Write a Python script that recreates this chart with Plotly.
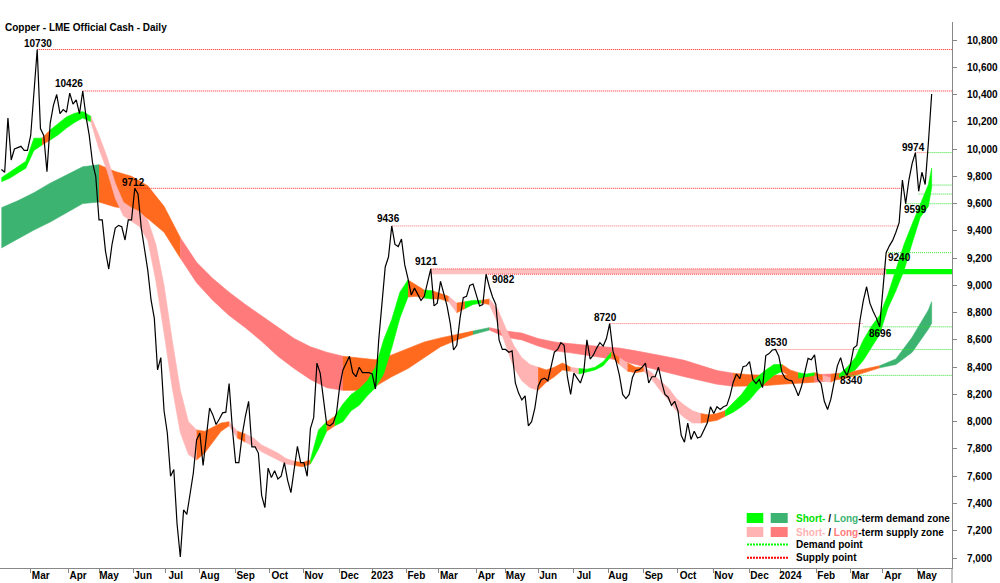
import pandas as pd
import plotly.graph_objects as go

# ---------------- calendar (LME trading days) ----------------
lme_holidays = ["2022-04-15", "2022-04-18", "2022-05-02", "2022-06-02", "2022-06-03",
                "2022-08-29", "2022-09-19", "2022-12-26", "2022-12-27",
                "2023-01-02", "2023-04-07", "2023-04-10", "2023-05-01", "2023-05-08",
                "2023-05-29", "2023-08-28", "2023-12-25", "2023-12-26",
                "2024-01-01", "2024-03-29", "2024-04-01", "2024-05-06", "2024-05-27"]
trading_days = pd.bdate_range("2022-02-03", "2024-05-15", freq="C", holidays=lme_holidays)
calendar_days = pd.bdate_range("2022-02-03", "2024-05-31", freq="C", holidays=lme_holidays)

# ---------------- price (every second trading day) ----------------
price_values = [
    9850, 9830, 10228, 9920, 10000, 10010, 10020, 9990, 9990, 10100,
    10450, 10730, 10150, 10100, 9834, 10191, 10323, 10400, 10260, 10290,
    10270, 10410, 10330, 10360, 10260, 10426, 10240, 10100, 9900, 9800,
    9480, 9480, 9250, 9120, 9300, 9420, 9440, 9430, 9333, 9480,
    9480, 9712, 9670, 9420, 9265, 9110, 8893, 8760, 8380, 8470,
    8080, 7917, 7600, 7650, 7250, 7008, 7353, 7320, 7470, 7624,
    7866, 7917, 7680, 7870, 8100, 8050, 7980, 8020, 8065, 8070,
    8280, 7950, 7700, 7700, 7900, 8040, 8150, 7815, 7815, 7770,
    7460, 7370, 7660, 7590, 7640, 7580, 7600, 7700, 7570, 7480,
    7650, 7820, 7700, 7700, 7600, 7950, 8030, 8430, 8356, 8160,
    7980, 7970, 7990, 8060, 8260, 8380, 8430, 8480, 8360, 8330,
    8400, 8360, 8360, 8360, 8350, 8240, 8600, 8900, 9135, 9208,
    9436, 9300, 9285, 9340, 9150, 9050, 8930, 8980, 8930, 8890,
    8920, 9030, 9121, 8850, 8870, 9030, 8930, 8850, 8720, 8526,
    8560, 8760, 8910, 8920, 9000, 9010, 8930, 8850, 8860, 9082,
    8990, 8915, 8860, 8600, 8530, 8530, 8510, 8520, 8284, 8210,
    8160, 8190, 7970, 8000, 8100, 8260, 8310, 8320, 8300, 8400,
    8510, 8530, 8580, 8560, 8330, 8200, 8356, 8320, 8284, 8356,
    8600, 8460, 8490, 8540, 8580, 8555, 8610, 8720, 8520, 8440,
    8340, 8200, 8170, 8200, 8325, 8375, 8380, 8400, 8430, 8284,
    8330, 8330, 8400, 8290, 8200, 8180, 8120, 8150, 8080, 7900,
    7850, 7990, 7870, 7930, 7880, 7890, 7940, 7990, 8110, 8060,
    8110, 8090, 8110, 8120, 8190, 8290, 8350, 8315, 8404, 8410,
    8440, 8310, 8280, 8310, 8250, 8485, 8500, 8526, 8530, 8480,
    8360, 8318, 8306, 8300, 8250, 8190, 8260, 8360, 8465, 8455,
    8490, 8310, 8280, 8150, 8090, 8165, 8290, 8410, 8470, 8380,
    8340, 8415, 8540, 8560, 8750, 8890, 8990, 8870, 8810, 8760,
    8696, 8944, 9240, 9290, 9330, 9390, 9460, 9773, 9599, 9773,
    9895, 9974, 9690, 9830, 9740, 10050, 10404]
price_dates = trading_days[::2][:len(price_values)]

# ---------------- short-term zone (weekly knots) ----------------
short_upper = [
    9790, 9830, 9870, 9910, 10080, 10080, 10140, 10190, 10236, 10262,
    10275, 10240, 10100, 9940, 9750, 9610, 9570, 9540, 9480, 9300,
    9000, 8600, 8230, 8000, 7940, 7930, 7960, 7990, 8000, 7930,
    7910, 7880, 7830, 7800, 7770, 7730, 7710, 7700, 7720, 7940,
    8000, 8040, 8130, 8200, 8240, 8300, 8400, 8600, 8750, 8950,
    9040, 9000, 8966, 8960, 8940, 8920, 8870, 8880, 8890, 8890,
    8900, 8830, 8690, 8560, 8470, 8420, 8400, 8380, 8400, 8431,
    8400, 8390, 8385, 8400, 8440, 8510, 8470, 8430, 8400, 8400,
    8360, 8300, 8250, 8170, 8120, 8080, 8060, 8050, 8060, 8080,
    8140, 8200, 8280, 8330, 8380, 8420, 8420, 8380, 8360, 8350,
    8360, 8340, 8320, 8345, 8400, 8470, 8600, 8700, 8780, 8930,
    9120, 9300, 9450, 9590, 9740, 9860]
short_lower = [
    9760, 9785, 9820, 9860, 9990, 10030, 10066, 10105, 10154, 10195,
    10228, 10200, 10000, 9840, 9640, 9510, 9470, 9430, 9330, 9030,
    8650, 8250, 7920, 7760, 7720, 7770, 7850, 7930, 7970, 7880,
    7850, 7820, 7780, 7750, 7720, 7690, 7680, 7670, 7690, 7800,
    7930, 7970, 8000, 8080, 8120, 8190, 8250, 8350, 8540, 8760,
    8915, 8920, 8907, 8900, 8900, 8880, 8800, 8830, 8860, 8870,
    8860, 8730, 8560, 8400, 8300, 8250, 8230, 8290, 8330, 8380,
    8370, 8350, 8365, 8380, 8410, 8480, 8420, 8370, 8360, 8370,
    8310, 8230, 8160, 8080, 8030, 7990, 7990, 8000, 8010, 8040,
    8070, 8110, 8160, 8230, 8290, 8340, 8370, 8330, 8320, 8330,
    8340, 8300, 8290, 8325, 8350, 8380, 8450, 8540, 8640, 8830,
    8960, 9110, 9310, 9500, 9580, 9720]
# G = short-term demand, P = short-term supply, O = neutral/transition
short_state = ("GGGGGOGGGGGPPPPPPPPPPPPPOOOOPOPPPPPPOOGGOGGGGGGGGGOOGOOPOGGO"
               "PPPPPPOOOOPGGGGOPOOPPPPPPPOOOGGGGGGGOOGGOPOGGGGGGGGGGGGG")
short_dates = list(trading_days[::5]) + [trading_days[-1]]

# ---------------- long-term zone (fortnightly knots) ----------------
long_upper = [
    9570, 9620, 9680, 9750, 9810, 9870, 9885, 9835, 9800, 9730,
    9580, 9350, 9170, 9050, 8950, 8860, 8775, 8690, 8610, 8550,
    8510, 8480, 8465, 8455, 8490, 8540, 8585, 8615, 8640, 8665,
    8690, 8665, 8650, 8610, 8585, 8570, 8560, 8550, 8540, 8520,
    8500, 8475, 8450, 8410, 8375, 8356, 8345, 8340, 8340, 8345,
    8345, 8350, 8360, 8385, 8410, 8460, 8620, 8820, 8880]
long_lower = [
    9275, 9340, 9406, 9465, 9530, 9600, 9612, 9575, 9560, 9490,
    9390, 9200, 9020, 8890, 8780, 8690, 8590, 8480, 8390, 8310,
    8250, 8230, 8230, 8260, 8330, 8390, 8470, 8550, 8600, 8640,
    8672, 8620, 8600, 8555, 8520, 8505, 8490, 8470, 8450, 8420,
    8390, 8360, 8330, 8300, 8275, 8260, 8260, 8265, 8275, 8285,
    8290, 8300, 8320, 8360, 8395, 8420, 8510, 8680, 8722]
# D = long-term demand, S = long-term supply, O = neutral/transition
long_state = "DDDDDDOOOOOSSSSSSSSSSOOOOOOOODSSSSSSSSSSSSSSSOOOOOSOOODDDDD"
long_dates = list(trading_days[::10]) + [trading_days[-1]]

# ---------------- supply / demand points ----------------
supply_levels = [10730, 10426, 9712, 9436, 9121, 9082, 8720, 8530, 9974]
supply_start_k = [11, 25, 41, 120, 132, 149, 187, 238, 281]
supply_end_k = [None, None, 277, 276, 272, 272, 265, 262, 285]
demand_levels = [8340, 8530, 8696, 9240, 9599, 9670, 9736, 9974]
demand_start_k = [257, 262, 265, 272, 278, 282, 285, 285]
zone_low, zone_high = 9082, 9121
zone_start_k, zone_turn_k = 132, 272

label_values = [10730, 10426, 9712, 9436, 9121, 9082, 8720, 8530, 8340, 8696, 9240, 9599, 9974]
label_k = [11, 25, 41, 120, 132, 149, 187, 238, 260, 270, 272, 278, 281]

y_ticks = [7000, 7200, 7400, 7600, 7800, 8000, 8200, 8400, 8600, 8800,
           9000, 9200, 9400, 9600, 9800, 10000, 10200, 10400, 10600, 10800]
month_labels = ["Mar", "Apr", "May", "Jun", "Jul", "Aug", "Sep", "Oct", "Nov", "Dec",
                "2023", "Feb", "Mar", "Apr", "May", "Jun", "Jul", "Aug", "Sep", "Oct",
                "Nov", "Dec", "2024", "Feb", "Mar", "Apr", "May"]

# ---------------- styling ----------------
COL = {"G": "#00FF00", "D": "#3CB371", "P": "#FFB3B3", "S": "#FF7B7B", "O": "#FF6A1E"}
FONT = "Liberation Sans, Arial, sans-serif"
x_start = pd.Timestamp("2022-02-02 03:00")
x_end = pd.Timestamp("2024-06-03 12:00")
supply_colors = ["#FF2020", "#FF2020", "#FF2020", "#FF7070", "#FF4040",
                 "#FF4040", "#FF7070", "#FF7070", "#FF7070"]
label_shift = [(1, 6), (-14, 7), (-1, 6), (-3, 7), (-4, 7), (17, -5), (-4, 6.5),
               (1, 6.5), (4, -5.5), (1, -6.3), (13, -5.3), (10, -5.3), (-2, 5.6)]

fig = go.Figure()


def add_band(dates, upper, lower, states):
    n = len(dates)
    j = 0
    while j < n - 1:
        s = states[j]
        k = j
        while k + 1 < n - 1 and states[k + 1] == s:
            k += 1
        idx = list(range(j, k + 2))
        xs = [dates[i] for i in idx] + [dates[i] for i in reversed(idx)]
        ys = [upper[i] for i in idx] + [lower[i] for i in reversed(idx)]
        fig.add_trace(go.Scatter(x=xs, y=ys, mode="lines", fill="toself",
                                 fillcolor=COL[s], line=dict(color=COL[s], width=0.6),
                                 hoverinfo="skip", showlegend=False))
        j = k + 1


add_band(long_dates, long_upper, long_lower, long_state)
add_band(short_dates, short_upper, short_lower, short_state)

# zone between two close supply points
za, zb = price_dates[zone_start_k], price_dates[zone_turn_k]
fig.add_trace(go.Scatter(x=[za, zb, zb, za, za], y=[zone_low, zone_low, zone_high, zone_high, zone_low],
                         mode="lines", fill="toself", fillcolor="rgba(255,150,150,0.6)",
                         line=dict(width=0), hoverinfo="skip", showlegend=False))
fig.add_trace(go.Scatter(x=[zb, x_end, x_end, zb, zb], y=[zone_low, zone_low, zone_high, zone_high, zone_low],
                         mode="lines", fill="toself", fillcolor="#00FF00",
                         line=dict(width=0), hoverinfo="skip", showlegend=False))

for lvl, s, e, c in zip(supply_levels, supply_start_k, supply_end_k, supply_colors):
    xe = x_end if e is None else price_dates[e]
    fig.add_trace(go.Scatter(x=[price_dates[s], xe], y=[lvl, lvl], mode="lines",
                             line=dict(color=c, width=1, dash="1px,1px"),
                             hoverinfo="skip", showlegend=False))
for lvl, s in zip(demand_levels, demand_start_k):
    fig.add_trace(go.Scatter(x=[price_dates[s], x_end], y=[lvl, lvl], mode="lines",
                             line=dict(color="#30E030", width=1, dash="1px,1px"),
                             hoverinfo="skip", showlegend=False))

fig.add_trace(go.Scatter(x=price_dates, y=price_values, mode="lines",
                         line=dict(color="black", width=1.2),
                         hoverinfo="skip", showlegend=False))

for v, k, (dx, dy) in zip(label_values, label_k, label_shift):
    fig.add_annotation(x=price_dates[k], y=v, text=str(v), showarrow=False,
                       xanchor="center", yanchor="middle", xshift=dx, yshift=dy,
                       font=dict(family=FONT, size=10, color="black", weight="bold"))

# ---------------- layout helpers (pixel -> paper) ----------------
def px(x):
    return x / 952.0


def py(y):
    return (568.0 - y) / 546.0


# title
fig.add_annotation(x=px(3), y=py(28), xref="paper", yref="paper", text="Copper - LME Official Cash - Daily",
                   showarrow=False, xanchor="left", yanchor="middle",
                   font=dict(family=FONT, size=10, color="black", weight="bold"))

# legend (manual)
shapes = []
for (x0, x1, y0, y1, c) in [(746.7, 763.3, 513, 523, COL["G"]), (770.7, 787.7, 513, 523, COL["D"]),
                            (746.7, 763.3, 527, 537, COL["P"]), (770.7, 787.7, 527, 537, COL["S"])]:
    shapes.append(dict(type="rect", xref="paper", yref="paper", x0=px(x0), x1=px(x1),
                       y0=py(y1), y1=py(y0), fillcolor=c, line=dict(width=0)))
for (yy, c) in [(544.5, "#00FF00"), (557.7, "#FF0000")]:
    shapes.append(dict(type="line", xref="paper", yref="paper", x0=px(747), x1=px(788),
                       y0=py(yy), y1=py(yy), line=dict(color=c, width=2, dash="2px,1px")))
# right axis line continues below the x axis
shapes.append(dict(type="line", xref="paper", yref="paper", x0=1, x1=1, y0=0, y1=py(583),
                   line=dict(color="#888888", width=1)))
fig.update_layout(shapes=shapes)

legend_rows = [
    (518, '<span style="color:#00E000">Short-</span> / <span style="color:#3CB371">Long</span>-term demand zone'),
    (532, '<span style="color:#FFB3B3">Short-</span> / <span style="color:#FF7B7B">Long</span>-term supply zone'),
    (544.5, "Demand point"),
    (557.7, "Supply point"),
]
for yy, t in legend_rows:
    fig.add_annotation(x=px(794), y=py(yy), xref="paper", yref="paper", text=t, showarrow=False,
                       xanchor="left", yanchor="middle",
                       font=dict(family=FONT, size=10, color="black", weight="bold"))

cal = pd.Series(calendar_days)
month_firsts = list(cal.groupby(cal.dt.to_period("M")).first().iloc[1:])

fig.update_layout(
    width=1000, height=583,
    margin=dict(l=0, r=48, t=22, b=15, autoexpand=False),
    paper_bgcolor="white", plot_bgcolor="white",
    showlegend=False,
    xaxis=dict(
        type="date", range=[x_start, x_end], automargin=False,
        rangebreaks=[dict(bounds=["sat", "mon"]), dict(values=lme_holidays)],
        tickvals=month_firsts,
        ticktext=month_labels,
        ticks="outside", ticklen=4, tickcolor="#888888",
        showline=True, linecolor="#888888", linewidth=1,
        showgrid=False, zeroline=False,
        ticklabelshift=10, ticklabelstandoff=-6,
        tickfont=dict(family=FONT, size=10, color="black", weight="bold"),
    ),
    yaxis=dict(
        side="right", range=[6927, 10932], automargin=False,
        tickvals=y_ticks, tickformat=",",
        ticks="outside", ticklen=4, tickcolor="#888888",
        showline=True, linecolor="#888888", linewidth=1,
        showgrid=False, zeroline=False,
        ticklabelstandoff=8,
        tickfont=dict(family=FONT, size=10, color="black", weight="bold"),
    ),
)

fig.write_html("out.html")
